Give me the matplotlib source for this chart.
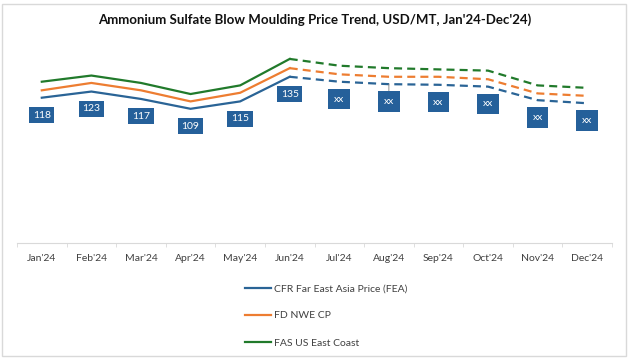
import matplotlib
matplotlib.use("Agg")
import matplotlib.pyplot as plt
from matplotlib.patches import Rectangle

# data
months = ["Jan'24", "Feb'24", "Mar'24", "Apr'24", "May'24", "Jun'24",
          "Jul'24", "Aug'24", "Sep'24", "Oct'24", "Nov'24", "Dec'24"]
fea = [118, 123, 117, 109, 115, 135, 131, 129, 128.5, 127, 116, 113.5]
nwe = [124, 130, 124, 115, 122, 142, 137, 135, 135, 133, 121.5, 119.5]
usec = [131, 136, 130, 121, 128, 149.5, 144, 142, 141, 140, 128, 126]
point_labels = ["118", "123", "117", "109", "115", "135",
                "xx", "xx", "xx", "xx", "xx", "xx"]
series_names = ["CFR Far East Asia Price (FEA)", "FD NWE CP", "FAS US East Coast"]
title = "Ammonium Sulfate Blow Moulding Price Trend, USD/MT, Jan'24-Dec'24)"

colors = ["#2a6496", "#ed7d31", "#217a2b"]
box_col = "#25609a"
split = 5  # last actual month (Jun)

plt.rcParams['font.family'] = ['Lato', 'DejaVu Sans']

fig = plt.figure(figsize=(6.29, 3.60), dpi=100)
ax = fig.add_axes([17/629, 117/360, 595/629, 197/360])

x = list(range(len(months)))
handles = []
for vals, c, name in zip([fea, nwe, usec], colors, series_names):
    h, = ax.plot(x[:split+1], vals[:split+1], color=c, lw=1.6,
                 solid_joinstyle='miter', label=name)
    ax.plot(x[split:], vals[split:], color=c, lw=1.6, dashes=(3.6, 2.3))
    handles.append(h)

for i, (v, t) in enumerate(zip(fea, point_labels)):
    kw = {}
    pad = 0.35 if t != "xx" else 0.55
    if i == 7:
        kw['arrowprops'] = dict(arrowstyle='-', color='#7f7f7f', lw=0.6,
                                shrinkA=0, shrinkB=0)
    ax.annotate(t, (i, v), xytext=(0, -12.5), textcoords='offset points',
                ha='center', va='center', color='white', fontsize=7.5,
                bbox=dict(boxstyle='square,pad=%s' % pad, fc=box_col, ec='none'),
                **kw)

ax.set_xlim(-0.5, 11.5)
ax.set_ylim(0, 160)
ax.set_yticks([])
for s in ['top', 'right', 'left']:
    ax.spines[s].set_visible(False)
ax.spines['bottom'].set_color('#d9d9d9')
ax.set_xticks(x)
ax.set_xticklabels(months, fontsize=7.5, color='#404040')
ax.tick_params(axis='x', which='major', length=0, pad=8)
ax.set_xticks([i - 0.5 for i in range(13)], minor=True)
ax.tick_params(axis='x', which='minor', length=3, color='#d9d9d9')

fig.text(0.5, 1 - 20/360, title, ha='center', va='center',
         fontsize=9.5, fontweight='bold', color='#111111')

fig.legend(handles=handles, labels=series_names, loc='upper left',
           bbox_to_anchor=(245/629, 1 - 284/360), frameon=False,
           fontsize=7.5, handlelength=2.5, handletextpad=0.3,
           labelspacing=1.72, borderpad=0, borderaxespad=0,
           labelcolor='#404040')

fig.patches.append(Rectangle((2/629, 4/360), 624/629, 352/360,
                             transform=fig.transFigure, fill=False,
                             ec='#d9d9d9', lw=1))

fig.savefig("out.png", dpi=100)
